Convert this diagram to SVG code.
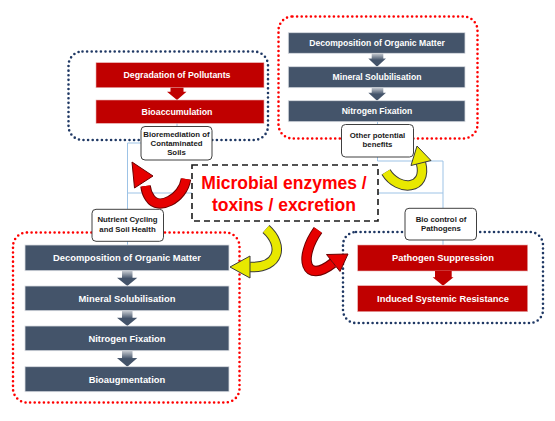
<svg xmlns="http://www.w3.org/2000/svg" width="555" height="421" viewBox="0 0 555 421">
<defs>
<style>
.conn{stroke:#9DC3E6;stroke-width:1;fill:none}
.dotN{fill:none;stroke:#1F3864;stroke-width:2.6;stroke-dasharray:0 4.6;stroke-linecap:round}
.dotR{fill:none;stroke:#FF0000;stroke-width:2.6;stroke-dasharray:0 4.6;stroke-linecap:round}
.rbox{fill:#C00000;stroke:#E8B0B0;stroke-width:0.6}
.nbox{fill:#44546A;stroke:#D9DCE1;stroke-width:0.8}
.bt{font-family:"Liberation Sans",Arial,sans-serif;font-weight:bold;fill:#FFFFFF;text-anchor:middle}
.lbl{fill:#FFFFFF;stroke:#404040;stroke-width:1}
.lt{font-family:"Liberation Sans",Arial,sans-serif;font-weight:bold;font-size:7.8px;fill:#1a1a1a;text-anchor:middle}
.ra{fill:#C00000}
.na{fill:url(#ng)}
.oR{stroke:#6B0000;stroke-width:10.5;fill:none}
.iR{stroke:#E60000;stroke-width:8.5;fill:none}
.oY{stroke:#3A3A3A;stroke-width:10.5;fill:none}
.iY{stroke:#E8E800;stroke-width:8.5;fill:none}
.hR{fill:#E60000;stroke:#6B0000;stroke-width:1}
.hY{fill:#E8E800;stroke:#3A3A3A;stroke-width:1}
.mt{font-family:"Liberation Sans",Arial,sans-serif;font-weight:bold;font-size:17.5px;fill:#FF0000;text-anchor:middle}
</style>
<linearGradient id="ng" x1="0" y1="0" x2="0" y2="1">
<stop offset="0" stop-color="#C9CDD3"/>
<stop offset="0.5" stop-color="#44546A"/>
<stop offset="1" stop-color="#44546A"/>
</linearGradient>
</defs>
<rect width="555" height="421" fill="#FFFFFF"/>

<g id="connectors">
<path class="conn" d="M177,123 V127"/>
<path class="conn" d="M141,143 H127.5 V209"/>
<path class="conn" d="M192,193 H127.5"/>
<path class="conn" d="M127.5,241 V245"/>
<path class="conn" d="M377.5,122 V124"/>
<path class="conn" d="M377.5,157 V161 H443 V208"/>
<path class="conn" d="M378,193 H443"/>
<path class="conn" d="M443,240 V245"/>
</g>

<g id="frames">
<rect class="dotN" x="68.5" y="51.5" width="199.5" height="88.5" rx="14"/>
<rect class="dotR" x="278.5" y="16.5" width="199" height="122" rx="14"/>
<rect class="dotR" x="13" y="232.5" width="226.5" height="170" rx="14"/>
<rect class="dotN" x="343" y="232" width="200" height="91" rx="13"/>
</g>

<g id="group-bioremediation">
<rect class="rbox" x="96" y="62.7" width="168" height="25"/>
<text class="bt" x="177" y="78.3" font-size="8.8">Degradation of Pollutants</text>
<path class="ra" d="M170.5,87.7 H183.5 V91.7 H186.5 L177,100 L167,91.7 H170.5 Z"/>
<rect class="rbox" x="96" y="100" width="168" height="23.3"/>
<text class="bt" x="177" y="114.7" font-size="8.8">Bioaccumulation</text>
</g>

<g id="group-other">
<rect class="nbox" x="288.3" y="32.7" width="176.7" height="20.6"/>
<text class="bt" x="377" y="46.1" font-size="8.6">Decomposition of Organic Matter</text>
<path class="na" d="M371.7,53.3 H383.3 V58.5 H386 L377,66.7 L368.3,58.5 H371.7 Z"/>
<rect class="nbox" x="288.3" y="66.7" width="176.7" height="21"/>
<text class="bt" x="377" y="80.3" font-size="8.6">Mineral Solubilisation</text>
<path class="na" d="M371.7,87.7 H383.3 V92.8 H386 L377,100.7 L368.3,92.8 H371.7 Z"/>
<rect class="nbox" x="288.3" y="100.7" width="176.7" height="21"/>
<text class="bt" x="377" y="114.3" font-size="8.6">Nitrogen Fixation</text>
</g>

<g id="group-nutrient">
<rect class="nbox" x="25" y="245" width="204" height="25.7"/>
<text class="bt" x="127" y="261.2" font-size="9.4">Decomposition of Organic Matter</text>
<path class="na" d="M122,270.7 H132.5 V277.7 H137.3 L127.3,286 L117,277.7 H122 Z"/>
<rect class="nbox" x="25" y="286" width="204" height="24.7"/>
<text class="bt" x="127" y="301.7" font-size="9.4">Mineral Solubilisation</text>
<path class="na" d="M122,310.7 H132.5 V317.7 H137.3 L127.3,326 L117,317.7 H122 Z"/>
<rect class="nbox" x="25" y="326" width="204" height="24.7"/>
<text class="bt" x="127" y="341.7" font-size="9.4">Nitrogen Fixation</text>
<path class="na" d="M122,350.7 H132.5 V358 H137.3 L127.3,366.7 L117,358 H122 Z"/>
<rect class="nbox" x="25" y="366.7" width="204" height="25"/>
<text class="bt" x="127" y="382.5" font-size="9.4">Bioaugmentation</text>
</g>

<g id="group-biocontrol">
<rect class="rbox" x="357.7" y="245" width="170" height="26"/>
<text class="bt" x="443" y="261.3" font-size="9.4">Pathogen Suppression</text>
<path class="ra" d="M435,271 H451.7 V277.3 H453.5 L443,285.7 L432.7,277.3 H435 Z"/>
<rect class="rbox" x="357.7" y="285.7" width="170" height="26"/>
<text class="bt" x="443" y="302" font-size="9.4">Induced Systemic Resistance</text>
</g>

<g id="label-bioremediation">
<rect class="lbl" x="141" y="126.5" width="71" height="33.5" rx="4"/>
<text class="lt" x="176.5" y="137.3">Bioremediation of</text>
<text class="lt" x="176.5" y="146.3">Contaminated</text>
<text class="lt" x="176.5" y="155.3">Soils</text>
</g>

<g id="label-other">
<rect class="lbl" x="341.5" y="124.5" width="72" height="32.5" rx="4"/>
<text class="lt" x="377.5" y="138.3">Other potential</text>
<text class="lt" x="377.5" y="147.3">benefits</text>
</g>

<g id="label-nutrient">
<rect class="lbl" x="92" y="209.3" width="71.5" height="32" rx="4"/>
<text class="lt" x="127.5" y="222">Nutrient Cycling</text>
<text class="lt" x="127.5" y="231.8">and Soil Health</text>
</g>

<g id="label-biocontrol">
<rect class="lbl" x="405" y="208.3" width="71.5" height="31.7" rx="4"/>
<text class="lt" x="441" y="221.7">Bio control of</text>
<text class="lt" x="441" y="230.7">Pathogens</text>
</g>

<g id="center">
<rect x="192" y="165" width="186" height="56" fill="#FFFFFF" stroke="#1a1a1a" stroke-width="1.6" stroke-dasharray="6 4"/>
<text class="mt" x="284" y="189">Microbial enzymes /</text>
<text class="mt" x="284" y="210.5">toxins / excretion</text>
</g>

<g id="curved-arrows">
<path class="oR" d="M186,179 C183,199 158,211 150,198 C147,194 146,190 145.5,186"/>
<path class="iR" d="M186,179 C183,199 158,211 150,198 C147,194 146,190 145.5,186"/>
<polygon class="hR" points="132,162 153,176 134.5,188"/>

<path class="oY" d="M266,229 C284,245 280,268 250,267"/>
<path class="iY" d="M266,229 C284,245 280,268 250,267"/>
<polygon class="hY" points="230,267 250,256 250,278"/>

<path class="oR" d="M318,230 C298,258 305,285 333,263"/>
<path class="iR" d="M318,230 C298,258 305,285 333,263"/>
<polygon class="hR" points="348,254 340,271.5 326.5,254.5"/>

<path class="oY" d="M386,172 C398,192 428,190 421,163"/>
<path class="iY" d="M386,172 C398,192 428,190 421,163"/>
<polygon class="hY" points="417,146 431,160.5 411,165.5"/>
</g>
</svg>
